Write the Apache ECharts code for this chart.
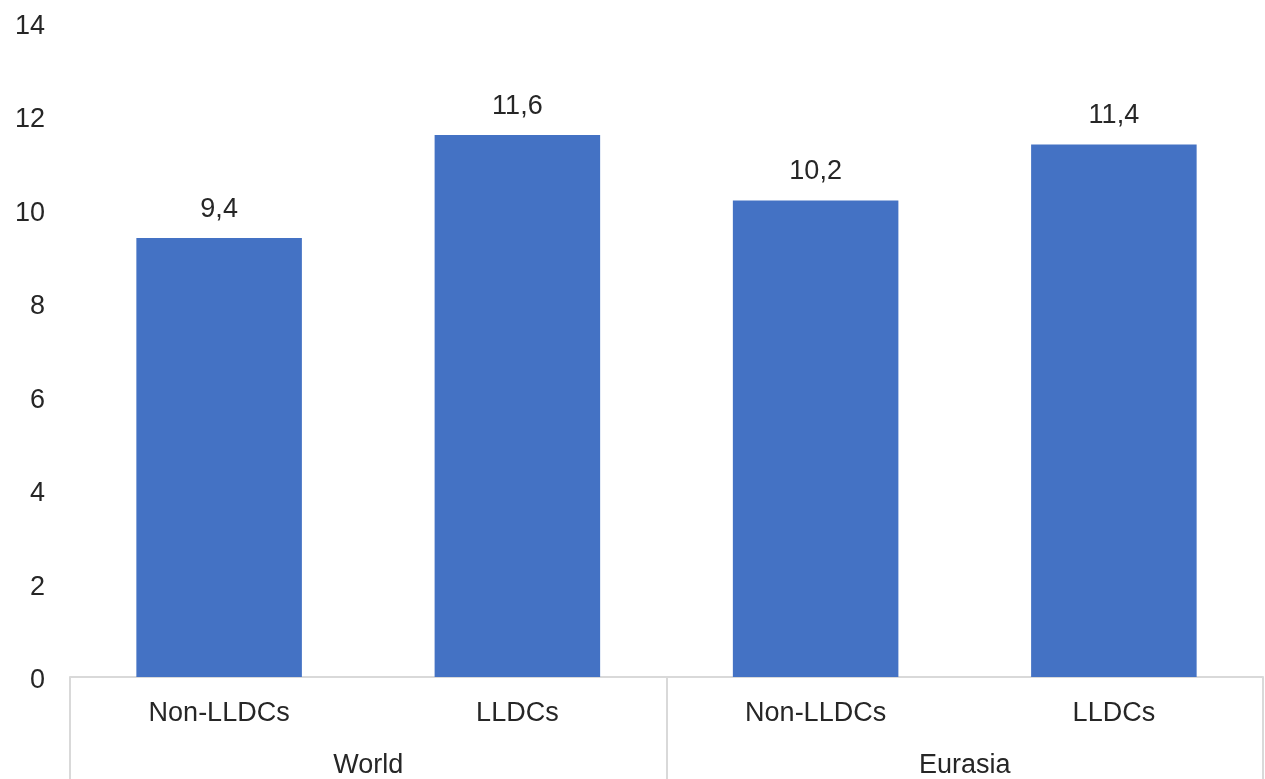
<!DOCTYPE html>
<html>
<head>
<meta charset="utf-8">
<script src="https://cdn.jsdelivr.net/npm/echarts@6/dist/echarts.min.js"></script>
<style>
  html, body { margin: 0; padding: 0; background: #ffffff; }
  #chart { width: 1265px; height: 779px; }
</style>
</head>
<body>
<div id="chart"></div>
<script>
// Category labels (inner level) and their groups (outer level)
const categories = ['Non-LLDCs', 'LLDCs', 'Non-LLDCs', 'LLDCs'];
const groups = ['World', 'Eurasia'];
const values = [9.4, 11.6, 10.2, 11.4];
const yTicks = [0, 2, 4, 6, 8, 10, 12, 14];

const textColor = '#262626';
const lineColor = '#d9d9d9';
const fontFamily = 'Liberation Sans, Arial, sans-serif';
const fontSize = 27;

const chart = echarts.init(document.getElementById('chart'));
chart.setOption({
  animation: false,
  textStyle: { fontFamily: fontFamily },
  grid: { left: 70, right: 2, top: 23, bottom: 101, containLabel: false },
  xAxis: [
    {
      type: 'category',
      data: categories,
      position: 'bottom',
      axisLine: { show: true, lineStyle: { color: lineColor, width: 2 } },
      axisTick: { show: false },
      axisLabel: { color: textColor, fontSize: fontSize, margin: 23, fontFamily: fontFamily }
    },
    {
      type: 'category',
      data: groups,
      position: 'bottom',
      gridIndex: 0,
      axisLine: { show: false },
      axisTick: { show: true, length: 104, lineStyle: { color: lineColor, width: 2 } },
      axisLabel: { color: textColor, fontSize: fontSize, margin: 75, fontFamily: fontFamily }
    }
  ],
  yAxis: {
    type: 'value',
    min: yTicks[0],
    max: yTicks[yTicks.length - 1],
    interval: 2,
    axisLine: { show: false },
    axisTick: { show: false },
    splitLine: { show: false },
    axisLabel: {
      color: textColor, fontSize: fontSize, margin: 25, fontFamily: fontFamily,
      formatter: v => '{v|' + v + '}',
      rich: { v: { fontSize: fontSize, color: textColor, fontFamily: fontFamily, padding: [7, 0, 0, 0] } }
    }
  },
  series: [
    {
      type: 'bar',
      xAxisIndex: 0,
      data: values,
      barWidth: '55.5%',
      itemStyle: { color: '#4472C4' },
      label: {
        show: true,
        position: 'top',
        distance: 15,
        color: textColor,
        fontSize: fontSize,
        fontFamily: fontFamily,
        formatter: p => String(p.value).replace('.', ',')
      }
    }
  ]
});
</script>
</body>
</html>
